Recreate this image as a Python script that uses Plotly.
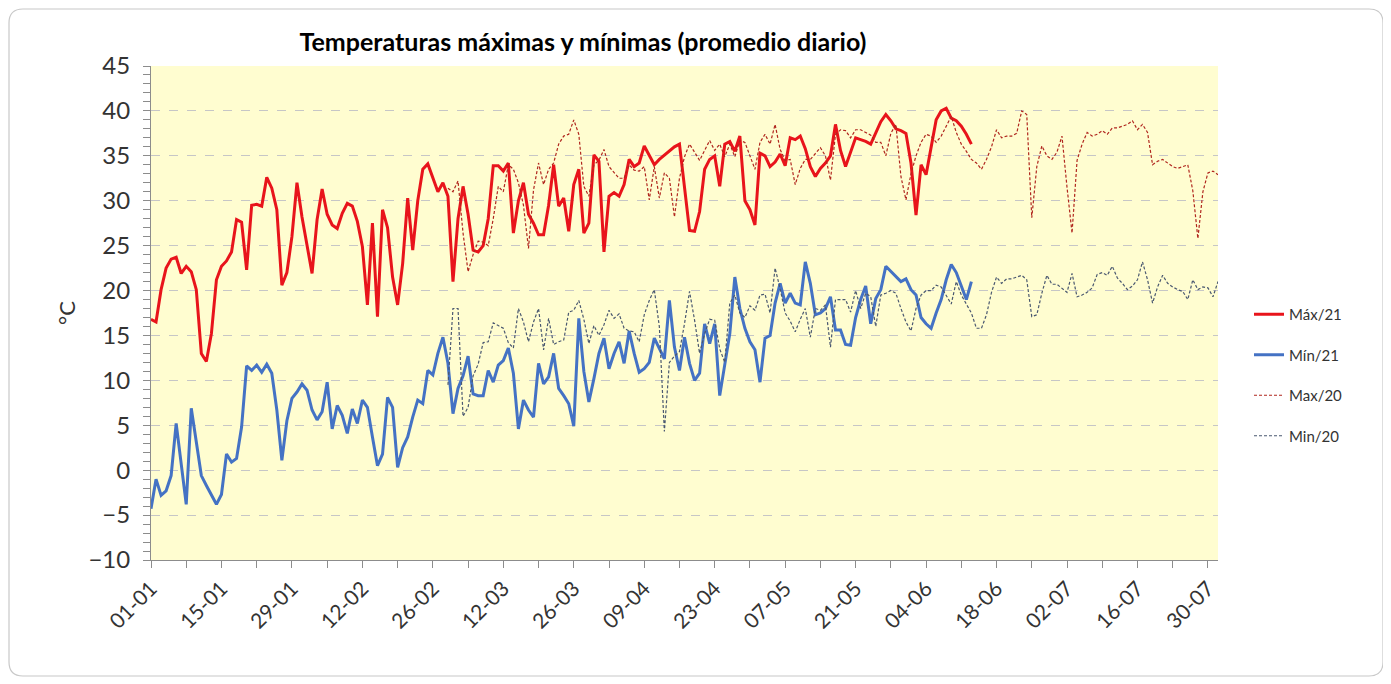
import pandas as pd
import plotly.graph_objects as go

# ---------------- data ----------------
start_21 = "2021-01-01"  # first day of the 2021 series
max_21 = [16.8, 16.5, 20.1, 22.5, 23.5, 23.7, 21.9, 22.7, 22.1, 20.1,
          13.0, 12.1, 15.2, 21.2, 22.7, 23.3, 24.3, 27.9, 27.6, 22.3,
          29.5, 29.6, 29.4, 32.6, 31.4, 29.0, 20.6, 22.0, 26.0, 32.0,
          28.2, 24.9, 21.9, 27.9, 31.3, 28.5, 27.3, 26.9, 28.6, 29.7,
          29.4, 27.7, 24.9, 18.4, 27.5, 17.1, 29.0, 27.0, 21.5, 18.4,
          23.0, 30.3, 24.5, 30.0, 33.5, 34.1, 32.5, 31.0, 32.0, 30.5,
          21.0, 28.0, 31.6, 28.5, 24.5, 24.3, 25.0, 28.0, 33.9, 33.9,
          33.3, 34.2, 26.4, 30.0, 32.0, 28.5, 27.5, 26.2, 26.2, 29.5,
          34.0, 29.4, 30.3, 26.6, 31.8, 33.5, 26.4, 27.5, 35.1, 34.4,
          24.3, 30.5, 30.9, 30.5, 31.8, 34.6, 33.8, 34.2, 36.1, 35.1,
          34.0, 34.6, 35.1, 35.5, 36.0, 36.3, 31.5, 26.7, 26.6, 28.8,
          33.5, 34.6, 35.0, 31.6, 36.3, 36.6, 35.5, 37.2, 30.0, 29.0,
          27.3, 35.3, 35.0, 33.8, 34.3, 35.2, 33.9, 37.0, 36.8, 37.2,
          35.8, 33.8, 32.7, 33.6, 34.2, 35.0, 38.5, 35.6, 33.8, 35.3,
          37.0, 36.8, 36.6, 36.3, 37.5, 38.8, 39.6, 38.9, 38.0, 37.8,
          37.5, 34.2, 28.4, 34.0, 32.9, 36.1, 39.0, 40.0, 40.3, 39.2,
          38.9, 38.3, 37.4, 36.3]
min_21 = [-4.3, -1.0, -2.8, -2.3, -0.6, 5.2, 0.7, -3.8, 6.9, 3.0,
          -0.6, -1.7, -2.8, -3.8, -2.7, 1.8, 0.9, 1.3, 4.8, 11.6,
          11.1, 11.7, 10.9, 11.8, 10.8, 6.7, 1.1, 5.5, 8.0, 8.7,
          9.6, 8.9, 6.7, 5.6, 6.5, 9.8, 4.6, 7.2, 6.1, 4.1,
          6.8, 5.2, 7.8, 7.0, 3.7, 0.5, 1.8, 8.1, 7.0, 0.3,
          2.5, 3.7, 5.9, 7.8, 7.4, 11.1, 10.6, 13.0, 14.8, 11.9,
          6.3, 9.1, 10.5, 12.7, 8.5, 8.3, 8.3, 11.1, 9.8, 11.7,
          12.2, 13.6, 10.8, 4.6, 7.8, 6.7, 5.9, 11.9, 9.6, 10.4,
          13.0, 9.1, 8.3, 7.4, 4.9, 16.9, 11.0, 7.6, 10.2, 13.0,
          14.7, 11.3, 13.0, 14.3, 11.9, 15.5, 13.0, 10.9, 11.3, 12.0,
          14.7, 13.6, 12.4, 18.9, 13.7, 11.1, 14.8, 11.9, 10.0, 10.8,
          16.3, 14.1, 16.3, 8.3, 12.0, 15.2, 21.5, 18.0, 15.8, 14.3,
          13.4, 9.8, 14.7, 15.0, 18.6, 20.8, 18.6, 19.7, 18.6, 18.4,
          23.2, 20.8, 17.3, 17.5, 18.0, 19.3, 15.6, 15.6, 14.0, 13.9,
          17.0, 19.0, 20.5, 16.3, 19.1, 20.1, 22.7, 22.1, 21.5, 21.0,
          21.3, 20.1, 19.5, 17.0, 16.3, 15.8, 17.5, 19.0, 21.2, 22.9,
          22.0, 20.5, 19.0, 21.0]

start_20 = "2021-03-01"  # first day of the 2020 series (plotted on the same calendar)
max_20 = [31.4, 31.0, 32.2, 26.4, 22.1, 24.0, 25.5, 25.4, 25.0, 28.0,
          31.6, 31.0, 34.0, 33.5, 32.0, 29.5, 24.7, 31.2, 34.2, 31.8,
          33.5, 34.2, 36.3, 37.2, 37.4, 39.0, 37.4, 31.6, 30.5, 34.0,
          34.5, 35.7, 33.8, 33.1, 32.5, 32.5, 34.0, 33.4, 33.3, 33.8,
          30.1, 33.8, 30.3, 33.1, 32.5, 28.2, 32.5, 34.9, 36.3, 35.4,
          34.5, 35.6, 36.7, 35.6, 36.3, 34.9, 36.3, 34.9, 36.7, 36.5,
          35.0, 33.5, 36.5, 37.4, 36.3, 38.5, 35.7, 34.5, 34.6, 31.8,
          33.6, 34.6, 34.6, 35.3, 35.9, 35.0, 32.3, 37.4, 37.9, 37.8,
          37.0, 37.9, 37.9, 37.6, 37.3, 36.5, 36.5, 35.0, 37.5, 38.5,
          32.7, 30.1, 33.0, 35.0, 36.5, 37.4, 37.2, 36.5, 37.2, 38.3,
          39.4, 37.6, 36.3, 35.5, 34.6, 34.2, 33.5, 34.6, 36.0, 37.9,
          37.0, 37.2, 37.2, 37.5, 40.0, 39.6, 28.1, 33.8, 36.1, 35.0,
          34.6, 35.4, 37.2, 31.5, 26.4, 34.5, 36.3, 37.6, 37.2, 37.4,
          37.8, 37.4, 38.1, 38.1, 38.3, 38.5, 38.9, 37.9, 38.5, 37.6,
          34.0, 34.4, 34.6, 34.2, 33.8, 33.6, 33.8, 34.0, 31.1, 25.8,
          31.0, 33.1, 33.3, 32.9]
min_20 = [9.5, 18.0, 18.0, 6.0, 7.0, 10.5, 11.8, 14.2, 14.3, 16.4,
          16.1, 15.8, 14.2, 13.6, 18.0, 16.5, 14.3, 16.5, 18.0, 13.4,
          16.9, 14.0, 14.3, 14.5, 17.6, 17.8, 18.9, 16.8, 14.1, 16.1,
          15.0, 16.2, 17.8, 16.9, 17.4, 15.8, 15.5, 15.4, 14.3, 17.3,
          18.9, 20.1, 16.0, 4.3, 12.0, 12.7, 13.2, 16.3, 19.9, 16.7,
          13.0, 15.2, 16.8, 16.7, 13.5, 12.0, 18.6, 19.5, 17.5, 17.0,
          18.3, 17.8, 19.5, 19.6, 17.5, 22.5, 20.2, 17.5, 16.6, 15.4,
          16.8, 18.0, 14.8, 18.0, 17.8, 18.4, 13.7, 19.0, 19.0, 19.0,
          17.6, 20.0, 18.0, 19.7, 19.3, 16.0, 19.5, 19.7, 20.0, 19.7,
          18.0, 16.5, 15.5, 18.0, 19.5, 20.0, 20.0, 20.6, 20.4, 19.5,
          18.5, 21.0, 19.5, 18.5, 17.5, 15.8, 15.8, 17.3, 19.8, 21.5,
          20.8, 21.3, 21.3, 21.5, 21.7, 21.2, 17.1, 17.3, 19.7, 21.7,
          20.7, 20.7, 20.3, 19.8, 21.9, 19.3, 19.5, 19.8, 20.3, 21.8,
          22.0, 21.7, 22.7, 21.4, 20.8, 20.1, 20.5, 21.2, 23.2, 21.2,
          18.6, 20.4, 21.7, 20.8, 20.4, 20.1, 19.9, 19.0, 21.2, 20.1,
          20.4, 20.3, 19.3, 21.0]

series_names = ["Máx/21", "Mín/21", "Max/20", "Min/20"]
title_text = "Temperaturas máximas y mínimas (promedio diario)"
y_title = "°C"
x_range = ["2021-01-01", "2021-08-01"]

dates_21 = pd.date_range(start_21, periods=len(max_21), freq="D")
dates_20 = pd.date_range(start_20, periods=len(max_20), freq="D")

FONT = "Lato"
TXT = "#333333"

fig = go.Figure()
fig.add_trace(go.Scatter(x=dates_21, y=max_21, mode="lines", name=series_names[0],
                         line=dict(color="#E8141B", width=3), legendgroup="a"))
fig.add_trace(go.Scatter(x=dates_21, y=min_21, mode="lines", name=series_names[1],
                         line=dict(color="#4472C4", width=3), legendgroup="b"))
fig.add_trace(go.Scatter(x=dates_20, y=max_20, mode="lines", name=series_names[2],
                         line=dict(color="#B0261E", width=1.2, dash="3px,2px"), legendgroup="c"))
fig.add_trace(go.Scatter(x=dates_20, y=min_20, mode="lines", name=series_names[3],
                         line=dict(color="#4A5870", width=1.2, dash="3px,2px"), legendgroup="d"))

# The page body has an 8 px margin: figure coords = page coords - 8
OFF = 8
FW, FH = 1377, 670
L, R, T, B = 151 - OFF, 1218 - OFF, 66 - OFF, 560 - OFF
W, H = R - L, B - T

def px(x_page):
    return (x_page - OFF - L) / W

def py(y_page):
    return (B - (y_page - OFF)) / H

x0, x1 = px(9), px(1383)
y0, y1 = py(676), py(9)
rx, ry = 14 / W, 14 / H
border = (f"M {x0+rx},{y1} L {x1-rx},{y1} Q {x1},{y1} {x1},{y1-ry} "
          f"L {x1},{y0+ry} Q {x1},{y0} {x1-rx},{y0} L {x0+rx},{y0} "
          f"Q {x0},{y0} {x0},{y0+ry} L {x0},{y1-ry} Q {x0},{y1} {x0+rx},{y1} Z")

fig.update_layout(
    width=FW, height=FH,
    margin=dict(l=L, r=FW - R, t=T, b=FH - B),
    paper_bgcolor="white",
    plot_bgcolor="#FFFDD0",
    font=dict(family=FONT, color=TXT),
    title=dict(text="<b>" + title_text + "</b>", x=(583 - OFF) / FW, xanchor="center",
               y=1 - (42 - OFF) / FH, yanchor="middle",
               font=dict(size=25, color="#000000", family=FONT)),
    showlegend=True,
    legend=dict(x=px(1249), y=py(298), xanchor="left", yanchor="top",
                font=dict(size=15, color=TXT, family=FONT),
                tracegroupgap=18, bgcolor="rgba(0,0,0,0)"),
    shapes=[dict(type="path", xref="paper", yref="paper", path=border,
                 line=dict(color="#C8C8C8", width=1.2), layer="below")],
)

fig.update_xaxes(
    type="date", range=x_range,
    tick0="2021-01-01", dtick=14 * 86400000, tickformat="%d-%m",
    tickangle=-45, tickfont=dict(size=21, color=TXT, family=FONT),
    showgrid=False, zeroline=False,
    showline=True, linecolor="#8C8C8C", linewidth=1,
    ticks="outside", ticklen=7, tickcolor="#8C8C8C",
    minor=dict(dtick=7 * 86400000, tick0="2021-01-01", ticks="outside",
               ticklen=7, tickcolor="#8C8C8C", showgrid=False),
)
fig.update_yaxes(
    range=[-10, 45], dtick=5, tick0=0,
    tickfont=dict(size=24, color=TXT, family=FONT),
    ticklabelstandoff=8,
    title=dict(text=y_title, font=dict(size=22, color=TXT, family=FONT), standoff=6),
    showgrid=True, gridcolor="#C6C6C6", griddash="dash", gridwidth=1,
    zeroline=False,
    showline=True, linecolor="#8C8C8C", linewidth=1,
    ticks="outside", ticklen=7, tickcolor="#8C8C8C",
    minor=dict(dtick=1, ticks="outside", ticklen=7, tickcolor="#8C8C8C", showgrid=False),
)

fig.write_html("out.html")
